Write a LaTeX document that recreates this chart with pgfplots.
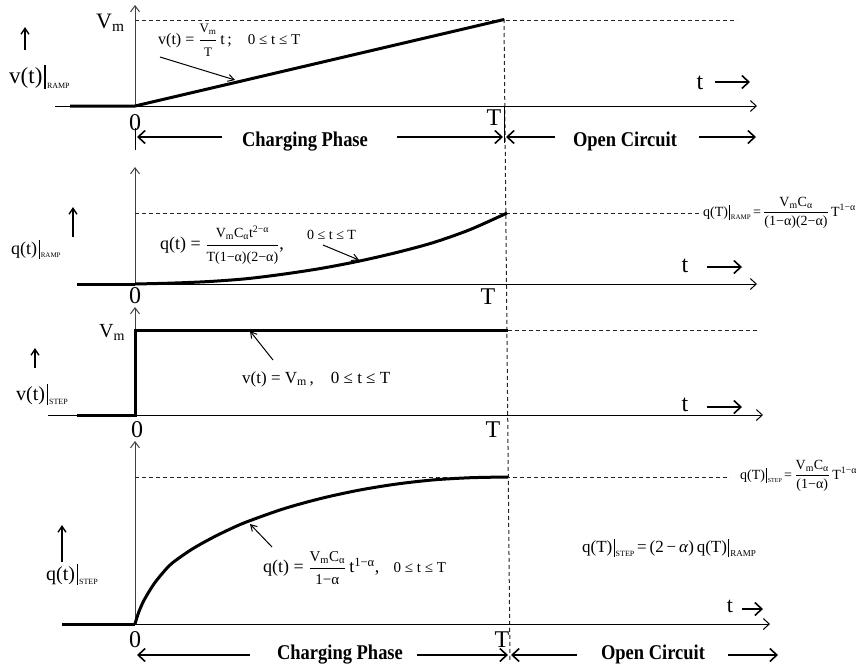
\documentclass[border=0pt]{standalone}
\usepackage{pgfplots}
\pgfplotsset{compat=1.18}
\usepackage{amsmath}
\usepackage{fontspec}
\setmainfont{Liberation Serif}
\usetikzlibrary{arrows.meta}
\newcommand{\fs}[1]{\fontsize{#1}{#1}\selectfont}
\newcommand{\ev}[2]{\kern0.08em\vrule width 0.06em height 0.8em depth 0.25em\kern0.06em\raisebox{-0.22em}{\fs{#1}#2}}
\newcommand{\fr}[2]{\ensuremath{\genfrac{}{}{0.6pt}{0}{\text{#1}}{\text{#2}}}}
\tikzset{
 ax/.style={line width=1pt,-{Straight Barb[length=6pt,width=11pt,line width=1pt]}},
 vax/.style={line width=1pt,black!75,-{Straight Barb[length=6pt,width=9pt,line width=1pt]}},
 dsh/.style={line width=1pt,black!85,dash pattern=on 4pt off 3pt},
 big/.style={line width=1.8pt,-{Straight Barb[length=7pt,width=13pt,line width=1.6pt]}},
 ptr/.style={line width=1pt,-{Straight Barb[length=6pt,width=7pt,line width=1pt]}},
 up/.style={line width=1.6pt,-{Straight Barb[length=6pt,width=8pt,line width=1.4pt]}},
 lb/.style={inner sep=0pt,font=\fs{24}},
 ph/.style={inner sep=0pt,font=\fs{21}\bfseries},
}
\begin{document}
\begin{tikzpicture}
\begin{axis}[width=858pt,height=664pt,scale only axis,xmin=0,xmax=858,ymin=0,ymax=664,
  y dir=reverse,hide axis,clip=false]
\path (axis cs:0,0) rectangle (axis cs:858,664);
% ---------------- common dashed T line
\draw[dsh] (504,19) -- (510,662);
% ================= Panel 1: v(t) ramp
\draw[ax] (55,106) -- (757,106);
\draw[vax] (135,106) -- (135,5);
\draw[line width=1pt] (135,128) -- (135,150);
\draw[line width=1pt] (504,106) -- (504,143);
\draw[dsh] (135,20) -- (737,20);
\addplot[line width=3pt] coordinates {(70,106) (135,106) (504,19.5)};
\node[anchor=base west,inner sep=0,font=\fs{22}] at (96,28) {V\textsubscript{m}};
\draw[up] (25,50) -- (25,27);
\node[anchor=base west,inner sep=0,font=\fs{23}] at (9,83) {v(t)\ev{8}{RAMP}};
\node[anchor=west,inner sep=0,font=\fs{16}] at (158,40) {v(t) = \fr{\fs{13}V\textsubscript{m}}{\fs{13}T}\,t\,;\hspace{1em}\fs{15}0 ≤ t ≤ T};
\draw[ptr] (160,57) -- (235,80);
\node[lb] at (135,123) {0};
\node[lb] at (494,118) {T};
\node[lb,anchor=base] at (700,89) {t};
\draw[big] (715,82) -- (750,82);
\draw[big] (222,137) -- (137,137);
\node[ph,anchor=base] at (305,146) {\scalebox{0.88}[1]{Charging Phase}};
\draw[big] (397,137) -- (503,137);
\draw[big] (555,137) -- (506,137);
\node[ph,anchor=base] at (625,146) {\scalebox{0.88}[1]{Open Circuit}};
\draw[big] (699,137) -- (756,137);
% ================= Panel 2: q(t) ramp
\draw[ax] (77,284) -- (757,284);
\draw[vax] (135,284) -- (135,167);
\draw[dsh] (135,213) -- (700,213);
\addplot[line width=3pt] coordinates {(77,284) (135,284)};
\addplot[line width=3pt,smooth] coordinates {(135,284) (172.2,283.1) (209.4,281.5) (246.6,278.7) (283.8,274.1) (321,268.4) (358.2,261.3) (395.4,252.8) (432.6,242.8) (469.8,229.7) (507,213)};
\draw[up] (73,237) -- (73,207);
\node[anchor=base west,inner sep=0,font=\fs{18}] at (11,254) {q(t)\ev{7}{RAMP}};
\node[anchor=west,inner sep=0,font=\fs{18}] at (160,245) {q(t) = \fr{\fs{14}V\textsubscript{m}C\textsubscript{α}t\textsuperscript{2−α}}{\fs{14}T(1−α)(2−α)},};
\node[anchor=base west,inner sep=0,font=\fs{14}] at (307,239) {0 ≤ t ≤ T};
\draw[ptr] (323,245) -- (359,260);
\node[lb] at (135,296) {0};
\node[lb] at (488,297) {T};
\node[lb,anchor=base] at (685,272) {t};
\draw[big] (707,267) -- (742,267);
\node[anchor=west,inner sep=0,font=\fs{14}] at (703,213) {q(T)\ev{7}{RAMP}\,=\,\fr{V\textsubscript{m}C\textsubscript{α}}{(1−α)(2−α)}\,T\textsuperscript{1−α}};
% ================= Panel 3: v(t) step
\draw[ax] (48,415) -- (763,415);
\draw[vax] (135,415) -- (135,307);
\draw[dsh] (508,330) -- (758,330);
\addplot[line width=3pt] coordinates {(77,415) (135,415) (135,330) (508,330)};
\node[anchor=base west,inner sep=0,font=\fs{20}] at (99,337) {V\textsubscript{m}};
\draw[up] (35,368) -- (35,348);
\node[anchor=base west,inner sep=0,font=\fs{20}] at (16,400) {v(t)\ev{8}{STEP}};
\node[anchor=base west,inner sep=0,font=\fs{17}] at (242,383) {v(t) = V\textsubscript{m}\,,\hspace{1em}0 ≤ t ≤ T};
\draw[ptr] (273,360) -- (250,331);
\node[lb] at (137,430) {0};
\node[lb] at (493,430) {T};
\node[lb,anchor=base] at (685,411) {t};
\draw[big] (707,407) -- (742,407);
% ================= Panel 4: q(t) step
\draw[ax] (62,624) -- (770,624);
\draw[vax] (135,624) -- (135,441);
\draw[dsh] (135,477) -- (730,477);
\addplot[line width=3pt] coordinates {(62,624) (135,624)};
\addplot[line width=3pt,smooth] coordinates {(135,624) (138.7,612.2) (144.3,599.7) (153.7,584.3) (163,572.6) (172.3,563) (191,549.8) (209.6,539.2) (228.3,529.9) (246.9,521.8) (284.2,508.6) (321.5,498.3) (358.8,490.2) (396.1,484.1) (433.4,479.9) (470.7,477.7) (508,477)};
\draw[up] (62,562) -- (62,525);
\node[anchor=base west,inner sep=0,font=\fs{20}] at (46,580) {q(t)\ev{8}{STEP}};
\node[anchor=west,inner sep=0,font=\fs{18}] at (263,568) {q(t) = \fr{\fs{15}V\textsubscript{m}C\textsubscript{α}}{\fs{15}1−α}\,t\textsuperscript{1−α},\hspace{0.8em}\fs{15}0 ≤ t ≤ T};
\draw[ptr] (272,547) -- (250,524);
\node[anchor=center,inner sep=0,font=\fs{17}] at (669,548) {q(T)\ev{8}{STEP}\,=\,(2\,−\,\textit{α})\,q(T)\ev{9}{RAMP}};
\node[anchor=west,inner sep=0,font=\fs{14}] at (740,476) {q(T)\ev{6}{STEP}\,=\,\fr{V\textsubscript{m}C\textsubscript{α}}{(1−α)}\,T\textsuperscript{1−α}};
\node[lb] at (135,640) {0};
\node[lb] at (502,640) {T};
\node[lb,anchor=base,font=\fs{22}] at (730,612) {t};
\draw[big] (742,609) -- (763,609);
\draw[big] (250,655) -- (137,655);
\node[ph,anchor=base] at (340,659) {\scalebox{0.88}[1]{Charging Phase}};
\draw[big] (417,655) -- (508,655);
\draw[big] (577,655) -- (511,655);
\node[ph,anchor=base] at (653,659) {\scalebox{0.88}[1]{Open Circuit}};
\draw[big] (728,655) -- (778,655);
\end{axis}
\end{tikzpicture}
\end{document}
